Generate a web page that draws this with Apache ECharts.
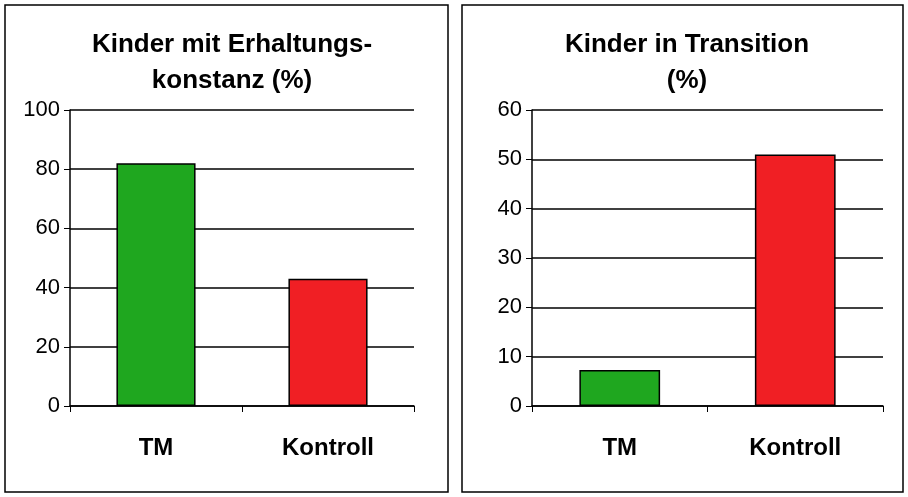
<!DOCTYPE html><html><head><meta charset="utf-8"><script src="https://cdn.jsdelivr.net/npm/echarts@6/dist/echarts.min.js"></script>
<style>html,body{margin:0;background:#fff}#c{width:908px;height:497px}</style></head><body><div id="c"></div><script>
const categories=['TM','Kontroll'];
const leftValues=[82,43];
const rightValues=[7.3,51];
const leftTitle='Kinder mit Erhaltungs-\nkonstanz (%)';
const rightTitle='Kinder in Transition\n(%)';
const colors=['#1fa71f','#f01f24'];
const c=echarts.init(document.getElementById('c'));
function xAx(i){return {gridIndex:i,type:'category',data:categories,axisTick:{show:true,alignWithLabel:false,length:6,lineStyle:{color:'#000'}},axisLine:{lineStyle:{color:'#000',width:1.5}},axisLabel:{color:'#000',fontFamily:'Arial, Liberation Sans',fontWeight:'bold',fontSize:24,margin:30}};}
function yAx(i,max,iv){return {gridIndex:i,type:'value',min:0,max:max,interval:iv,axisLine:{show:true,lineStyle:{color:'#000',width:1.5}},axisTick:{show:true,length:6,lineStyle:{color:'#000'}},splitLine:{lineStyle:{color:'#000',width:1.5}},axisLabel:{color:'#000',fontFamily:'Arial, Liberation Sans',fontSize:22,margin:10}};}
function ser(i,vals){return {type:'bar',xAxisIndex:i,yAxisIndex:i,barWidth:'46%',data:vals.map((v,k)=>({value:v,itemStyle:{color:colors[k],borderColor:'#000',borderWidth:1.5}}))};}
c.setOption({animation:false,
title:[{text:leftTitle,left:227,top:22,textAlign:'center',textStyle:{fontFamily:'Arial, Liberation Sans',fontWeight:'bold',fontSize:26,lineHeight:36,color:'#000'}},
{text:rightTitle,left:682,top:22,textAlign:'center',textStyle:{fontFamily:'Arial, Liberation Sans',fontWeight:'bold',fontSize:26,lineHeight:36,color:'#000'}}],
graphic:[{type:'rect',shape:{x:5,y:5,width:443,height:487},style:{fill:'none',stroke:'#000',lineWidth:1.5}},
{type:'rect',shape:{x:462,y:5,width:441,height:487},style:{fill:'none',stroke:'#000',lineWidth:1.5}}],
grid:[{left:70,top:110,width:344,height:296},{left:532,top:110,width:351,height:296}],
xAxis:[xAx(0),xAx(1)],yAxis:[yAx(0,100,20),yAx(1,60,10)],
series:[ser(0,leftValues),ser(1,rightValues)]});
</script></body></html>
